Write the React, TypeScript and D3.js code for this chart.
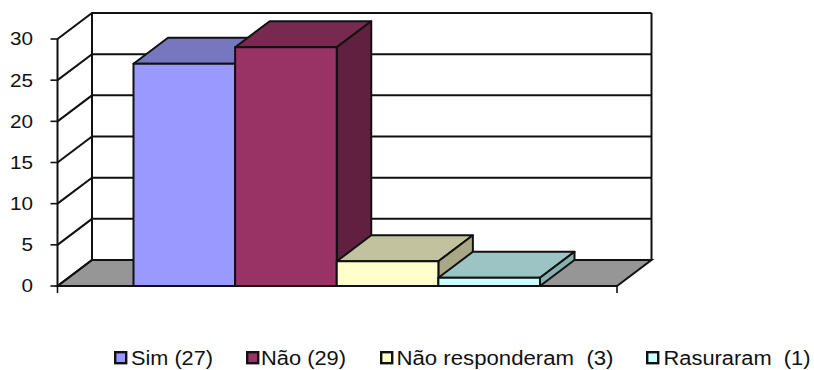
import React from "react";
import * as d3 from "d3";

// Survey answers, one 3D column per answer
const seriesNames = ["Sim", "Não", "Não responderam", "Rasuraram"];
const seriesValues = [27, 29, 3, 1];
const legendLabels = ["Sim (27)", "Não (29)", "Não responderam  (3)", "Rasuraram  (1)"];
const frontColors = ["#9999FF", "#993366", "#FFFFCC", "#CCFFFF"];
const topColors = ["#7777BF", "#77294F", "#C2C29E", "#9CC4C4"];
const sideColors = ["#66669F", "#61203F", "#A8A886", "#88B0B0"];
const yTicks = [0, 5, 10, 15, 20, 25, 30];
const legendSwatchX = [115.2, 247.2, 381.2, 647.2];
const legendTextX = [131, 261, 396.5, 663.5];
const legendTextWidths = [82, 85, 217, 147];

const FONT = "'Liberation Sans', Arial, sans-serif";
const INK = "#111";
const LINE = 2;
const DEPTH_X = 34.5;
const DEPTH_Y = -26;

const y = d3.scaleLinear().domain([0, 30]).range([286, 39]);
const x = d3.scaleBand<string>().domain(seriesNames).range([133.5, 540]);
const FLOOR_LEFT = 57.5;
const FLOOR_RIGHT = 617;
const TICK_LABEL_RIGHT = 33;

const poly = d3.line<[number, number]>().curve(d3.curveLinearClosed);

export default function App() {
  const y0 = y(0);
  const yMax = y(30);
  return (
    <svg
      width={814}
      height={370}
      style={{ position: "absolute", left: 0, top: 0, background: "#fff" }}
      fontFamily={FONT}
    >
      {/* Floor */}
      <path
        d={poly([
          [FLOOR_LEFT, y0],
          [FLOOR_LEFT + DEPTH_X, y0 + DEPTH_Y],
          [FLOOR_RIGHT + DEPTH_X, y0 + DEPTH_Y],
          [FLOOR_RIGHT, y0],
        ])!}
        fill="#969696"
        stroke={INK}
        strokeWidth={LINE}
      />

      {/* Gridlines across the side and back walls */}
      {yTicks.map((t) => (
        <path
          key={t}
          d={`M${FLOOR_LEFT},${y(t)}L${FLOOR_LEFT + DEPTH_X},${y(t) + DEPTH_Y}L${FLOOR_RIGHT + DEPTH_X},${y(t) + DEPTH_Y}`}
          fill="none"
          stroke={INK}
          strokeWidth={LINE}
        />
      ))}
      {/* Wall edges */}
      <path
        d={`M${FLOOR_LEFT},${y0}V${yMax}M${FLOOR_LEFT + DEPTH_X},${y0 + DEPTH_Y}V${yMax + DEPTH_Y}M${FLOOR_RIGHT + DEPTH_X},${y0 + DEPTH_Y}V${yMax + DEPTH_Y}`}
        fill="none"
        stroke={INK}
        strokeWidth={LINE}
      />

      {/* Axis baseline and tick marks */}
      <path
        d={`M${FLOOR_LEFT},${y0}H${FLOOR_RIGHT}M${FLOOR_LEFT},${y0}v7M${FLOOR_RIGHT},${y0}v7`}
        fill="none"
        stroke={INK}
        strokeWidth={1.6}
      />
      {yTicks.map((t) => (
        <g key={t}>
          <line x1={FLOOR_LEFT - 7} x2={FLOOR_LEFT} y1={y(t)} y2={y(t)} stroke={INK} strokeWidth={1.6} />
          <text
            transform={`translate(${TICK_LABEL_RIGHT},${y(t)}) scale(1.15,1)`}
            dy="0.36em"
            textAnchor="end"
            fontSize={18}
            fill={INK}
          >
            {t}
          </text>
        </g>
      ))}

      {/* Columns, painted left to right so each overlaps the previous one */}
      {seriesNames.map((name, i) => {
        const left = x(name)!;
        const right = left + x.bandwidth();
        const top = y(seriesValues[i]);
        return (
          <g key={name} stroke={INK} strokeWidth={LINE} strokeLinejoin="round">
            <path
              d={poly([
                [left, top],
                [left + DEPTH_X, top + DEPTH_Y],
                [right + DEPTH_X, top + DEPTH_Y],
                [right, top],
              ])!}
              fill={topColors[i]}
            />
            <path
              d={poly([
                [right, top],
                [right + DEPTH_X, top + DEPTH_Y],
                [right + DEPTH_X, y0 + DEPTH_Y],
                [right, y0],
              ])!}
              fill={sideColors[i]}
            />
            <rect x={left} y={top} width={x.bandwidth()} height={y0 - top} fill={frontColors[i]} />
          </g>
        );
      })}

      {/* Legend */}
      {legendLabels.map((label, i) => (
        <g key={label}>
          <rect
            x={legendSwatchX[i]}
            y={352.2}
            width={11}
            height={11}
            fill={frontColors[i]}
            stroke={INK}
            strokeWidth={2.4}
          />
          <text
            x={legendTextX[i]}
            y={365}
            fontSize={20}
            fill={INK}
            textLength={legendTextWidths[i]}
            lengthAdjust="spacingAndGlyphs"
            style={{ whiteSpace: "pre" }}
          >
            {label}
          </text>
        </g>
      ))}
    </svg>
  );
}
